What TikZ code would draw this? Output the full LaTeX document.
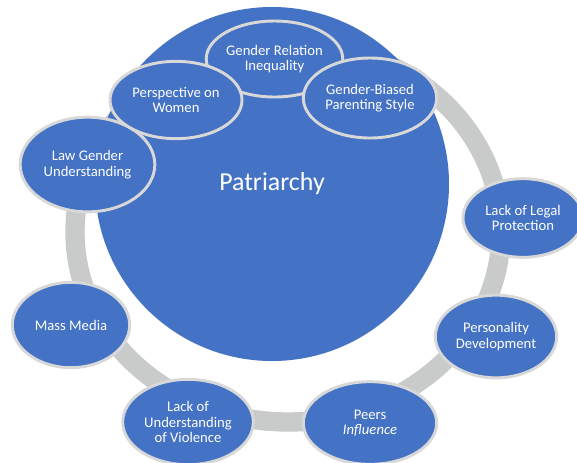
\documentclass[tikz,border=0pt]{standalone}
\usepackage{fontspec}
\setmainfont{Carlito}
\usetikzlibrary{shapes.geometric}
\definecolor{blu}{RGB}{68,114,196}
\definecolor{ringgray}{RGB}{201,202,202}
\definecolor{rimgray}{RGB}{216,216,216}
\tikzset{
  topic/.style={ellipse, fill=blu, draw=rimgray, line width=2.2pt, inner sep=0pt,
    text=white, align=center, font=\fontsize{11pt}{11.6pt}\selectfont},
  hub/.style={circle, fill=blu, inner sep=0pt, minimum size=265.5pt,
    text=white, font=\fontsize{19.4pt}{23pt}\selectfont},
}
\begin{document}
\begin{tikzpicture}[x=0.75pt,y=-0.75pt]
\useasboundingbox (0,0) rectangle (577,462);
\clip (0,0) rectangle (577,462);
% ring
\coordinate (ringc) at (288,232);
\draw[ringgray, line width=14.5pt] (ringc) ellipse [x radius=159.75pt, y radius=142.5pt];
% hub
\node[hub] (patriarchy) at (272,184) {Patriarchy};
% topics
\node[topic, minimum width=101pt, minimum height=57pt] (gri) at (274.5,59) {Gender Relation\\Inequality};
\node[topic, minimum width=101pt, minimum height=71pt] (law) at (87.5,164.5) {Law Gender\\Understanding};
\node[topic, minimum width=99pt, minimum height=58pt] (persp) at (176,100) {Perspective on\\Women};
\node[topic, minimum width=100pt, minimum height=60pt] (gbias) at (370,98) {Gender-Biased\\Parenting Style};
\node[topic, minimum width=90pt, minimum height=59pt] (legal) at (523,218) {Lack of Legal\\Protection};
\node[topic, minimum width=91pt, minimum height=62pt] (pers) at (496,336.5) {Personality\\Development};
\node[topic, minimum width=100pt, minimum height=62pt] (peers) at (370,423) {Peers\\\textit{Influence}};
\node[topic, minimum width=98pt, minimum height=64pt] (luv) at (188,422) {Lack of\\Understanding\\of Violence};
\node[topic, minimum width=88pt, minimum height=64pt] (media) at (71,325) {Mass Media};
\end{tikzpicture}
\end{document}
